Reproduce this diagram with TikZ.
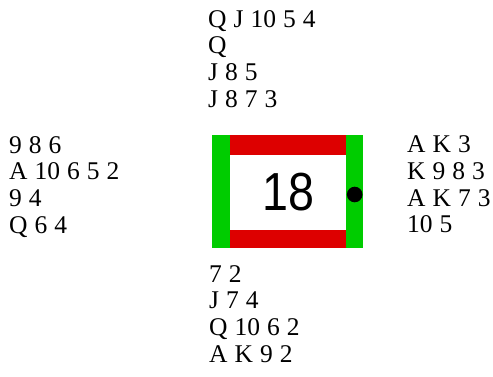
\documentclass[tikz,border=0pt]{standalone}
\usepackage{fontspec}
\newfontfamily\handfont[WordSpace=1.1]{Liberation Serif}
\newfontfamily\boardfont[FakeStretch=0.87]{Liberation Sans}
\definecolor{vulgreen}{HTML}{00CC00}
\definecolor{vulred}{HTML}{DD0000}
\tikzset{
  hand/.style={anchor=north west, inner sep=0pt, align=left,
    font=\handfont\fontsize{25.5}{26.7}\selectfont},
  greenbar/.style={fill=vulgreen},
  redbar/.style={fill=vulred},
}
\begin{document}
\begin{tikzpicture}[x=1pt,y=-1pt]
\path[use as bounding box] (0,0) rectangle (493,376);
% board
\node[draw=none, fill=white, minimum width=151pt, minimum height=113pt, inner sep=0pt] (board) at (287.5,191.5) {};
\fill[redbar] (229,135) rectangle (346,154.5);
\fill[redbar] (229,229.5) rectangle (346,248);
\fill[greenbar] (212,135) rectangle (229.5,248);
\fill[greenbar] (345.5,135) rectangle (363,248);
\node[font=\boardfont\fontsize{53.6}{60}\selectfont, inner sep=0pt] (num) at (288.5,192.5) {18};
\fill[black] (354.7,194.5) circle (7.8);
% hands
\node[hand] (north) at (208,8.4) {\strut Q J 10 5 4\\\strut Q\\\strut J 8 5\\\strut J 8 7 3};
\node[hand] (west) at (9,134.4) {\strut 9 8 6\\\strut A 10 6 5 2\\\strut 9 4\\\strut Q 6 4};
\node[hand] (east) at (407,133.8) {\strut A K 3\\\strut K 9 8 3\\\strut A K 7 3\\\strut 10 5};
\node[hand] (south) at (209,263.4) {\strut 7 2\\\strut J 7 4\\\strut Q 10 6 2\\\strut A K 9 2};
\end{tikzpicture}
\end{document}
